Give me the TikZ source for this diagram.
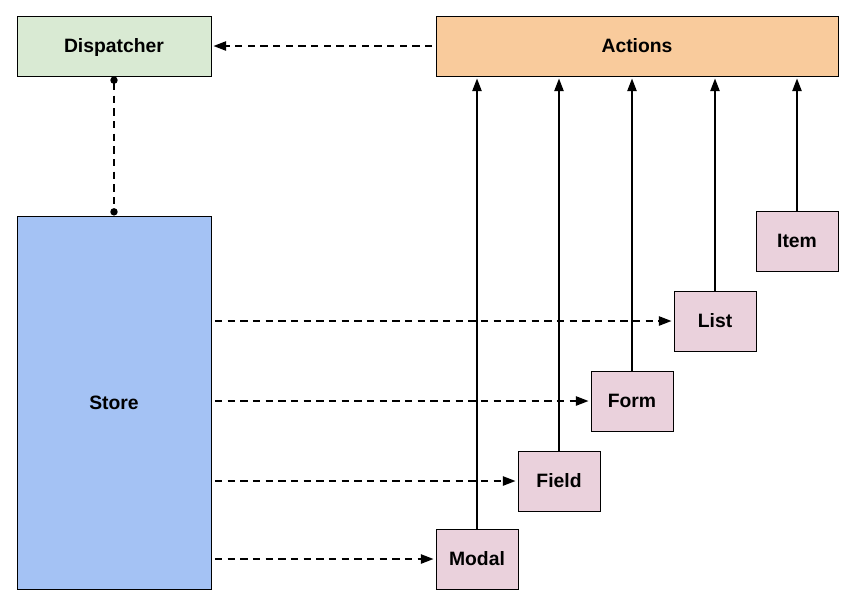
\documentclass[tikz,border=0pt]{standalone}
\usepackage{fontspec}
\setmainfont{Liberation Sans}
\usepackage{tikz}
\usetikzlibrary{arrows.meta}
\tikzset{every picture/.style={line width=0.75pt}}

\definecolor{dispgreen}{RGB}{217,234,211}
\definecolor{actorange}{RGB}{249,203,156}
\definecolor{storeblue}{RGB}{164,194,244}
\definecolor{viewpink}{RGB}{234,209,220}

\begin{document}
\begin{tikzpicture}[x=0.75pt,y=0.75pt,yscale=-1,xscale=1,
  box/.style={draw, inner sep=0.75pt, text height=10.4pt, text depth=0pt, font=\fontsize{14.5}{16}\selectfont\bfseries},
  viewbox/.style={box, fill=viewpink, minimum width=82*0.75pt, minimum height=60*0.75pt},
  dashlink/.style={line width=1.2pt, dash pattern=on 5.5pt off 4pt, shorten <=2.5pt, shorten >=1.5pt, -{Triangle[length=9.5pt,width=7pt]}},
  uplink/.style={line width=1.2pt, shorten >=1.5pt, -{Triangle[length=9.5pt,width=7pt]}}]
\useasboundingbox (0,0) rectangle (861,612);

%Boxes
\node[box, fill=dispgreen, minimum width=194*0.75pt, minimum height=60*0.75pt] (dispatcher) at (114,46) {Dispatcher};
\node[box, fill=actorange, minimum width=402*0.75pt, minimum height=60*0.75pt] (actions) at (637,46) {Actions};
\node[box, fill=storeblue, minimum width=194*0.75pt, minimum height=373*0.75pt] (store) at (114,402.5) {Store};

%Views
\node[viewbox] (item) at (797,241) {Item};
\node[viewbox] (list) at (715,321) {List};
\node[viewbox] (form) at (632,401) {Form};
\node[viewbox] (field) at (559,481) {Field};
\node[viewbox] (modal) at (477,559) {Modal};

%Connectors
\draw[dashlink] (actions.west) -- (dispatcher.east);
\draw[line width=1.2pt, dash pattern=on 5.5pt off 4pt, {Circle[length=5.5pt]}-{Circle[length=5.5pt]}] (dispatcher.south) -- (store.north);

\foreach \v in {list,form,field,modal}
  \draw[dashlink] (store.east |- \v.west) -- (\v.west);

\foreach \v in {modal,field,form,list,item}
  \draw[uplink] (\v.north) -- (\v.north |- actions.south);

\end{tikzpicture}
\end{document}
